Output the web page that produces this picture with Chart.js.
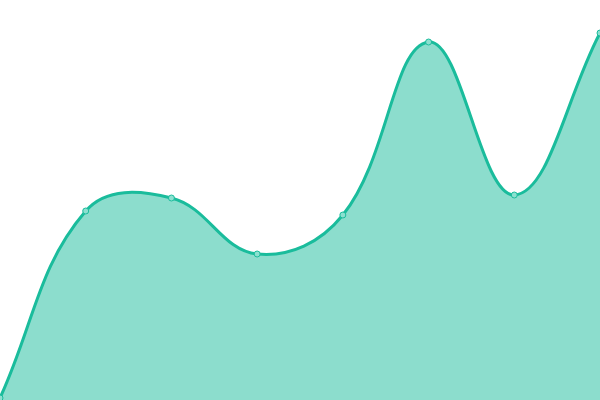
<!DOCTYPE html>
<html>
<head>
<meta charset="utf-8">
<script src="https://cdn.jsdelivr.net/npm/chart.js@4/dist/chart.umd.min.js"></script>
<style>
  html, body { margin: 0; padding: 0; background: #fff; }
  #wrap { width: 600px; height: 400px; }
</style>
</head>
<body>
<div id="wrap"><canvas id="chart"></canvas></div>
<script>
// values (scale 0..400)
const labels = ['1', '2', '3', '4', '5', '6', '7', '8'];
const values = [2, 189, 202, 146, 185, 358, 205, 367];

const ctx = document.getElementById('chart').getContext('2d');
new Chart(ctx, {
    type: 'line',
    data: {
        labels: labels,
        datasets: [{
            data: values,
            fill: true,
            tension: 0.4,
            borderColor: 'rgba(26, 188, 156, 1)',
            backgroundColor: 'rgba(26, 188, 156, 0.5)',
            borderWidth: 3,
            pointRadius: 3,
            pointBorderWidth: 1,
            pointBackgroundColor: 'rgba(140, 224, 208, 1)',
            pointBorderColor: 'rgba(26, 188, 156, 1)',
        }],
    },
    options: {
        responsive: true,
        maintainAspectRatio: false,
        animation: false,
        layout: { padding: 0, autoPadding: false },
        plugins: {
            legend: { display: false },
            tooltip: { enabled: false },
        },
        scales: {
            x: { display: false },
            y: { display: false, min: 0, max: 400 },
        },
    },
});
</script>
</body>
</html>
